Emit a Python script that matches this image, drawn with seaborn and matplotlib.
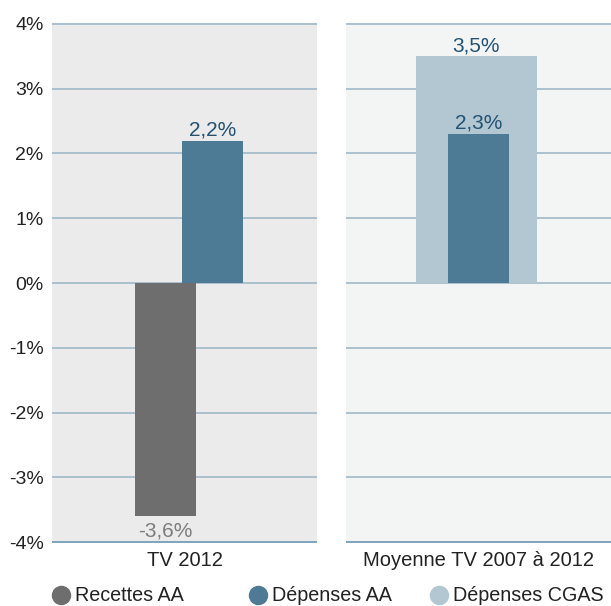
import matplotlib
matplotlib.use("Agg")
import matplotlib.pyplot as plt
import seaborn as sns
import pandas as pd
from matplotlib.lines import Line2D
from matplotlib.ticker import FuncFormatter

# Data (growth rates, %)
panels = ["TV 2012", "Moyenne TV 2007 à 2012"]
series = ["Recettes AA", "Dépenses AA", "Dépenses CGAS"]
recettes_aa = [-3.6, None]
depenses_aa = [2.2, 2.3]
depenses_cgas = [None, 3.5]
y_ticks = [-4, -3, -2, -1, 0, 1, 2, 3, 4]

colors = {"Recettes AA": "#6e6e6e", "Dépenses AA": "#4d7a95", "Dépenses CGAS": "#b3c7d3"}
label_colors = {"Recettes AA": "#7d7d7d", "Dépenses AA": "#235272", "Dépenses CGAS": "#235272"}
panel_bg = ["#ebebeb", "#f3f5f5"]

# per panel: drawing order, with (offset, width) of each bar
layout = [
    [("Recettes AA", -0.072, 0.23), ("Dépenses AA", 0.106, 0.23)],
    [("Dépenses CGAS", -0.008, 0.457), ("Dépenses AA", 0.0, 0.23)],
]
values = {"Recettes AA": recettes_aa, "Dépenses AA": depenses_aa, "Dépenses CGAS": depenses_cgas}

sns.set_theme(style="white")
plt.rcParams["font.family"] = ["Liberation Sans", "DejaVu Sans"]

fig = plt.figure(figsize=(6.11, 6.06), dpi=100)
W, H = 611, 606
top_px, bot_px = 23, 543
axes = [
    fig.add_axes([52 / W, 1 - bot_px / H, 265 / W, (bot_px - top_px) / H]),
    fig.add_axes([346 / W, 1 - bot_px / H, 265 / W, (bot_px - top_px) / H]),
]

def fmt(v):
    return f"{v:.1f}".replace(".", ",") + "%"

for i, ax in enumerate(axes):
    ax.set_facecolor(panel_bg[i])
    for name, off, w in layout[i]:
        v = values[name][i]
        df = pd.DataFrame({"cat": [panels[i]], "val": [v]})
        n_before = len(ax.patches)
        sns.barplot(data=df, x="cat", y="val", width=w, color=colors[name],
                    saturation=1, ax=ax, errorbar=None, zorder=3)
        bar = ax.patches[n_before]
        bar.set_x(bar.get_x() + off)
        bar.set_edgecolor("none")
        cx = bar.get_x() + bar.get_width() / 2
        dy = 3.8 if v >= 0 else -14.4
        ax.annotate(fmt(v), (cx, v), xytext=(0, dy), textcoords="offset points",
                    ha="center", va="baseline", fontsize=15,
                    color=label_colors[name], zorder=5)

    ax.set_xlim(-0.5, 0.5)
    ax.set_ylim(-4.015, 4.015)
    ax.set_yticks(y_ticks)
    ax.yaxis.grid(True, color="#a6bccb", linewidth=1.3, zorder=1)
    ax.xaxis.grid(False)
    ax.set_axisbelow(True)
    ax.axhline(-4, color="#7ea6bc", linewidth=1.4, zorder=2)
    for s in ax.spines.values():
        s.set_visible(False)
    ax.set_xlabel("")
    ax.set_ylabel("")
    ax.tick_params(axis="both", length=0)
    ax.tick_params(axis="x", labelsize=14.5, pad=6, labelcolor="#222222")
    if i == 0:
        ax.yaxis.set_major_formatter(FuncFormatter(lambda y, _: f"{int(round(y))}%"))
        ax.tick_params(axis="y", labelsize=14, pad=6, labelcolor="#222222")
    else:
        ax.set_yticklabels([])

# legend row
legend_pos = [(61, 75), (258, 272), (439, 453)]
for name, (mx, tx) in zip(series, legend_pos):
    fig.add_artist(Line2D([mx / W], [1 - 595 / H], marker="o", markersize=13,
                          color=colors[name], linestyle="none",
                          transform=fig.transFigure))
    fig.text(tx / W, 1 - 601 / H, name, fontsize=14.2, color="#222222",
             ha="left", va="baseline")

fig.savefig("out.png", dpi=100)
